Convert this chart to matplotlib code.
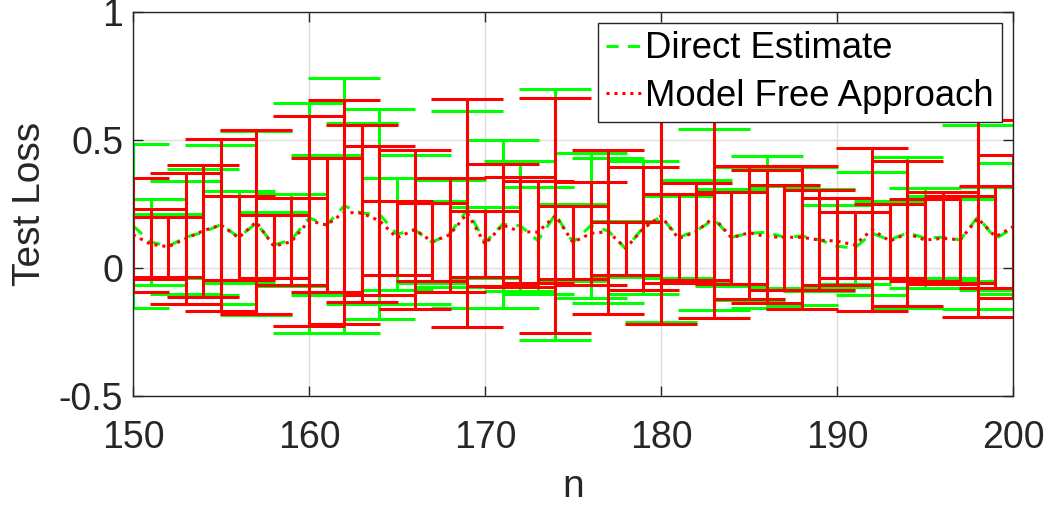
import numpy as np
import matplotlib
matplotlib.use("Agg")
import matplotlib.pyplot as plt

plt.rcParams["font.family"] = ["Liberation Sans", "DejaVu Sans"]

# Sample sizes
n = list(range(150, 201))

# Direct Estimate: mean test loss and error half-width per n
direct_mean = [0.165, 0.102, 0.085, 0.120, 0.140, 0.170, 0.120, 0.175, 0.090, 0.110,
               0.196, 0.168, 0.243, 0.214, 0.210, 0.132, 0.150, 0.100, 0.135, 0.228,
               0.100, 0.171, 0.165, 0.107, 0.210, 0.100, 0.165, 0.145, 0.075, 0.160,
               0.200, 0.120, 0.145, 0.190, 0.120, 0.135, 0.140, 0.120, 0.125, 0.110,
               0.085, 0.078, 0.135, 0.110, 0.137, 0.117, 0.120, 0.110, 0.200, 0.115,
               0.155]
direct_err = [0.320, 0.168, 0.125, 0.220, 0.245, 0.310, 0.180, 0.360, 0.130, 0.180,
              0.450, 0.273, 0.498, 0.354, 0.410, 0.218, 0.290, 0.160, 0.210, 0.385,
              0.140, 0.329, 0.255, 0.210, 0.490, 0.150, 0.283, 0.283, 0.110, 0.260,
              0.410, 0.160, 0.200, 0.355, 0.190, 0.260, 0.297, 0.200, 0.270, 0.200,
              0.160, 0.140, 0.240, 0.150, 0.295, 0.197, 0.160, 0.160, 0.360, 0.200,
              0.255]

# Model Free Approach: mean test loss and error half-width per n
free_mean = [0.130, 0.093, 0.083, 0.115, 0.146, 0.168, 0.118, 0.180, 0.085, 0.103,
             0.185, 0.168, 0.218, 0.214, 0.185, 0.118, 0.150, 0.103, 0.130, 0.215,
             0.093, 0.168, 0.142, 0.140, 0.205, 0.100, 0.135, 0.142, 0.077, 0.155,
             0.203, 0.115, 0.142, 0.198, 0.118, 0.138, 0.122, 0.120, 0.120, 0.109,
             0.105, 0.090, 0.150, 0.105, 0.135, 0.109, 0.116, 0.110, 0.194, 0.122,
             0.161]
free_err = [0.222, 0.137, 0.117, 0.255, 0.258, 0.335, 0.163, 0.360, 0.124, 0.169,
            0.410, 0.260, 0.438, 0.345, 0.290, 0.145, 0.310, 0.152, 0.222, 0.446,
            0.130, 0.240, 0.215, 0.200, 0.460, 0.143, 0.200, 0.320, 0.104, 0.240,
            0.420, 0.175, 0.190, 0.395, 0.180, 0.260, 0.260, 0.205, 0.280, 0.195,
            0.170, 0.130, 0.320, 0.145, 0.285, 0.160, 0.180, 0.170, 0.385, 0.200,
            0.280]

xticks = [150, 160, 170, 180, 190, 200]
yticks = [-0.5, 0, 0.5, 1]
ytick_labels = ["-0.5", "0", "0.5", "1"]

GREEN = (0.0, 1.0, 0.0)
RED = (1.0, 0.0, 0.0)
AXIS_COLOR = "#262626"

fig = plt.figure(figsize=(10.5, 5.05), dpi=100)
ax = fig.add_axes([0.1267, 0.216, 0.8381, 0.760])

# Error bars: green series first, red on top
ax.errorbar(n, direct_mean, yerr=direct_err, fmt="none", ecolor=GREEN,
            elinewidth=2.2, capsize=26, capthick=2.2, zorder=2.0)
line_direct, = ax.plot(n, direct_mean, color=GREEN, linestyle=(0, (4, 3)),
                       linewidth=2.2, zorder=2.1, label="Direct Estimate")
ax.errorbar(n, free_mean, yerr=free_err, fmt="none", ecolor=RED,
            elinewidth=2.2, capsize=26, capthick=2.2, zorder=2.2)
line_free, = ax.plot(n, free_mean, color=RED, linestyle=(0, (1, 1.6)),
                     linewidth=2.2, zorder=2.3, label="Model Free Approach")

ax.set_xlim(150, 200)
ax.set_ylim(-0.5, 1)
ax.set_xticks(xticks)
ax.set_yticks(yticks)
ax.set_yticklabels(ytick_labels)

ax.grid(True, color="#dedede", linewidth=1.0, zorder=0)
ax.set_axisbelow(True)

ax.tick_params(direction="in", length=7, width=1.0, colors=AXIS_COLOR,
               labelsize=27, top=True, right=True)
ax.tick_params(axis="x", pad=17)
ax.tick_params(axis="y", pad=7)
for spine in ax.spines.values():
    spine.set_color(AXIS_COLOR)
    spine.set_linewidth(1.0)
    spine.set_zorder(5)

ax.set_xlabel("n", fontsize=28, color=AXIS_COLOR, labelpad=10)
ax.set_ylabel("Test Loss", fontsize=28, color=AXIS_COLOR, labelpad=8)

leg = ax.legend(handles=[line_direct, line_free], loc="upper right",
                bbox_to_anchor=(0.9875, 0.971), borderaxespad=0,
                fontsize=26.3, frameon=True, fancybox=False, framealpha=1,
                edgecolor=AXIS_COLOR, handlelength=0.95, handletextpad=0.12,
                borderpad=0.22, labelspacing=0.35)
leg.get_frame().set_linewidth(1.0)
leg.set_zorder(10)

fig.savefig("out.png", dpi=100)
